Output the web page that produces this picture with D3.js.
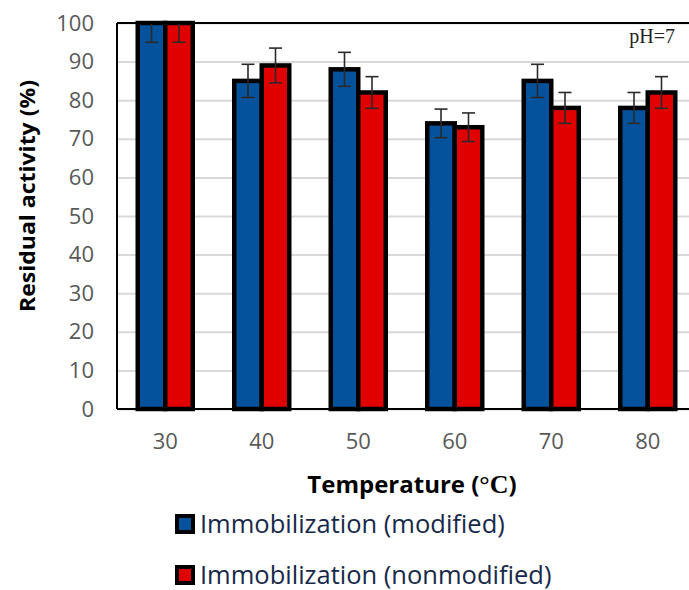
<!DOCTYPE html>
<html>
<head>
<meta charset="utf-8">
<script src="https://cdn.jsdelivr.net/npm/d3@7"></script>
<style>
  body { margin: 0; background: #fff; }
</style>
</head>
<body>
<div id="chart"></div>
<script>
const temperatures = ["30", "40", "50", "60", "70", "80"];
const seriesNames = ["Immobilization (modified)", "Immobilization (nonmodified)"];
const modifiedValues = [100, 85, 88, 74, 85, 78];
const modifiedErrors = [5, 4.3, 4.4, 3.7, 4.3, 4];
const nonmodifiedValues = [100, 89, 82, 73, 78, 82];
const nonmodifiedErrors = [5, 4.5, 4.1, 3.7, 4, 4.1];
const yTicks = [0, 10, 20, 30, 40, 50, 60, 70, 80, 90, 100];

const width = 689;
const height = 590;
const margin = { top: 23, right: -7, bottom: 181, left: 117 };
const colors = ["#05529c", "#e00000"];

const rows = temperatures.map((t, i) => ({
  temp: t,
  bars: [
    { key: seriesNames[0], value: modifiedValues[i], err: modifiedErrors[i] },
    { key: seriesNames[1], value: nonmodifiedValues[i], err: nonmodifiedErrors[i] }
  ]
}));

const svg = d3.select("#chart")
  .append("svg")
  .attr("width", width)
  .attr("height", height);

const x0 = d3.scaleBand()
  .domain(temperatures)
  .range([margin.left, width - margin.right])
  .paddingInner(0.43)
  .paddingOuter(0.215);

const x1 = d3.scaleBand()
  .domain(seriesNames)
  .range([0, x0.bandwidth()]);

const color = d3.scaleOrdinal().domain(seriesNames).range(colors);

const y = d3.scaleLinear()
  .domain([0, 100])
  .range([height - margin.bottom, margin.top]);

// gridlines
svg.append("g")
  .attr("transform", `translate(${margin.left},0)`)
  .call(d3.axisLeft(y).tickValues(yTicks).tickSize(-(width - margin.right - margin.left)).tickFormat(""))
  .call(g => g.select(".domain").remove())
  .selectAll("line")
  .attr("stroke", "#d9d9d9")
  .attr("stroke-width", 2);

svg.append("clipPath")
  .attr("id", "plot-clip")
  .append("rect")
  .attr("x", margin.left)
  .attr("y", margin.top)
  .attr("width", width - margin.right - margin.left)
  .attr("height", height - margin.bottom - margin.top + 10);

const groups = svg.selectAll("g.group")
  .data(rows)
  .enter()
  .append("g")
  .attr("class", "group")
  .attr("transform", d => `translate(${x0(d.temp)},0)`);

groups.selectAll("rect")
  .data(d => d.bars)
  .enter()
  .append("rect")
  .attr("x", d => x1(d.key))
  .attr("y", d => y(d.value))
  .attr("width", x1.bandwidth())
  .attr("height", d => y(0) - y(d.value))
  .attr("fill", d => color(d.key))
  .attr("stroke", "#000")
  .attr("stroke-width", 4.5);

// error bars
const errG = svg.append("g").attr("clip-path", "url(#plot-clip)");
rows.forEach(r => {
  r.bars.forEach(b => {
    const cx = x0(r.temp) + x1(b.key) + x1.bandwidth() / 2;
    const g = errG.append("g")
      .attr("stroke", "#2a2a2a")
      .attr("stroke-width", 1.6);
    g.append("line")
      .attr("x1", cx).attr("x2", cx)
      .attr("y1", y(b.value + b.err)).attr("y2", y(b.value - b.err));
    [b.value + b.err, b.value - b.err].forEach(v => {
      g.append("line")
        .attr("x1", cx - 6.5).attr("x2", cx + 6.5)
        .attr("y1", y(v)).attr("y2", y(v));
    });
  });
});

// frame
const frame = svg.append("g").attr("stroke", "#000").attr("stroke-width", 2).attr("fill", "none");
frame.append("line")
  .attr("x1", margin.left).attr("x2", margin.left)
  .attr("y1", y(100)).attr("y2", y(0));
frame.append("line")
  .attr("x1", margin.left).attr("x2", width)
  .attr("y1", y(100)).attr("y2", y(100));
frame.append("line")
  .attr("x1", margin.left).attr("x2", width)
  .attr("y1", y(0)).attr("y2", y(0));

// axes labels
svg.append("g")
  .attr("transform", `translate(${margin.left},0)`)
  .call(d3.axisLeft(y).tickValues(yTicks).tickSize(0).tickPadding(23))
  .call(g => g.select(".domain").remove())
  .selectAll("text")
  .style("font-family", "'Open Sans', sans-serif")
  .style("font-size", "22px")
  .attr("fill", "#595959");

svg.append("g")
  .attr("transform", `translate(0,${y(0)})`)
  .call(d3.axisBottom(x0).tickSize(0).tickPadding(24))
  .call(g => g.select(".domain").remove())
  .selectAll("text")
  .style("font-family", "'Open Sans', sans-serif")
  .style("font-size", "22px")
  .attr("fill", "#595959");

svg.append("text")
  .attr("transform", `translate(35,${196}) rotate(-90)`)
  .attr("text-anchor", "middle")
  .attr("textLength", 232)
  .attr("lengthAdjust", "spacingAndGlyphs")
  .style("font-family", "'Open Sans', sans-serif")
  .style("font-size", "22px")
  .style("font-weight", "bold")
  .attr("fill", "#000")
  .text("Residual activity (%)");

const xTitle = svg.append("text")
  .attr("x", 412)
  .attr("y", 493)
  .attr("text-anchor", "middle")
  .style("font-family", "'Open Sans', sans-serif")
  .style("font-size", "24px")
  .style("font-weight", "bold")
  .attr("fill", "#000");
xTitle.append("tspan").text("Temperature (");
xTitle.append("tspan")
  .style("font-family", "'Liberation Serif', serif")
  .style("font-size", "26px")
  .text("°C");
xTitle.append("tspan").text(")");

svg.append("text")
  .attr("x", 675)
  .attr("y", 43)
  .attr("text-anchor", "end")
  .style("font-family", "'Liberation Serif', serif")
  .style("font-size", "20px")
  .attr("fill", "#222")
  .text("pH=7");

// legend
const legend = svg.append("g");
seriesNames.forEach((name, i) => {
  const row = legend.append("g")
    .attr("transform", `translate(175, ${514 + i * 51})`);
  row.append("rect")
    .attr("x", 2).attr("y", 2)
    .attr("width", 16).attr("height", 16)
    .attr("fill", colors[i])
    .attr("stroke", "#000")
    .attr("stroke-width", 4);
  row.append("text")
    .attr("x", 25)
    .attr("y", 19)
    .style("font-family", "'Open Sans', sans-serif")
    .style("font-size", "25.5px")
    .attr("fill", "#17294a")
    .text(name);
});
</script>
</body>
</html>
